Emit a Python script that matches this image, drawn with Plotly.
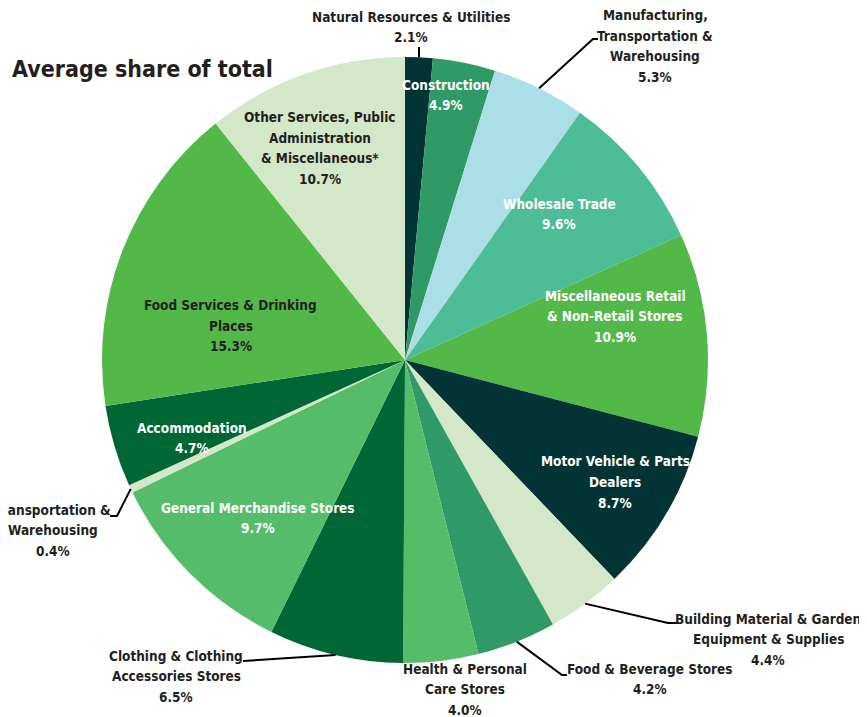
import math
import plotly.graph_objects as go

# Industry shares, clockwise from 12 o'clock
sectors = [
    "Natural Resources & Utilities",
    "Construction",
    "Manufacturing, Transportation & Warehousing",
    "Wholesale Trade",
    "Miscellaneous Retail & Non-Retail Stores",
    "Motor Vehicle & Parts Dealers",
    "Building Material & Garden Equipment & Supplies",
    "Food & Beverage Stores",
    "Health & Personal Care Stores",
    "Clothing & Clothing Accessories Stores",
    "General Merchandise Stores",
    "Transportation & Warehousing",
    "Accommodation",
    "Food Services & Drinking Places",
    "Other Services, Public Administration & Miscellaneous*",
]
# printed share labels (%)
share_pct = [2.1, 4.9, 5.3, 9.6, 10.9, 8.7, 4.4, 4.2, 4.0, 6.5, 9.7, 0.4, 4.7, 15.3, 10.7]
# slice sizes as actually drawn in the source chart (%)
drawn_pct = [1.47, 3.33, 5.0, 8.44, 10.83, 8.78, 4.03, 4.22, 4.0, 7.17, 10.53, 0.42, 4.36, 16.67, 10.75]

# label text as broken in the original
label_lines = [
    ["Natural Resources & Utilities"],
    ["Construction"],
    ["Manufacturing,", "Transportation &", "Warehousing"],
    ["Wholesale Trade"],
    ["Miscellaneous Retail", "& Non-Retail Stores"],
    ["Motor Vehicle & Parts", "Dealers"],
    ["Building Material & Garden", "Equipment & Supplies"],
    ["Food & Beverage Stores"],
    ["Health & Personal", "Care Stores"],
    ["Clothing & Clothing", "Accessories Stores"],
    ["General Merchandise Stores"],
    ["Transportation &", "Warehousing"],
    ["Accommodation"],
    ["Food Services & Drinking", "Places"],
    ["Other Services, Public", "Administration", "& Miscellaneous*"],
]

colors = ["#023436", "#2f9a66", "#abdfe8", "#4dbd98", "#52b848", "#023436", "#d3e8c8",
          "#2f9a66", "#55bc6a", "#006633", "#55bc6a", "#d3e8c8", "#006633", "#52b848", "#d3e8c8"]
text_colors = ["#231f20", "white", "#231f20", "white", "white", "white", "#231f20", "#231f20",
               "#231f20", "#231f20", "white", "#231f20", "white", "#231f20", "#231f20"]

# layout (pixels in the 867x717 window; the page body adds an 8px offset)
W, H = 867, 717
OFF = 8
CX, CY, R = 405, 360, 303
LINE_GAP = 20.5
label_pos = [(411, 27), (446, 95), (655, 46), (559, 214), (615, 316), (615, 482), (768, 639),
             (650, 679), (465, 689), (176, 676), (258, 518), (53, 530), (192, 438), (231, 326), (320, 148)]
# leader line elbows/ends
leaders = {
    0: [(419, 47)],
    2: [(593, 39), (598, 39)],
    6: [(668, 623), (677, 623)],
    7: [(562, 675), (567, 675)],
    9: [(243, 661)],
    11: [(117, 516), (110, 516)],
}

FONT = "DejaVu Sans Condensed, Liberation Sans Narrow, sans-serif"


def px(x, y):
    return (x - OFF) / W, 1 - (y - OFF) / H


fig = go.Figure()
x0, y1 = px(CX - R, CY - R)
x1, y0 = px(CX + R, CY + R)
fig.add_trace(go.Pie(
    labels=sectors, values=drawn_pct, sort=False, direction="clockwise", rotation=0,
    marker=dict(colors=colors, line=dict(width=0)),
    textinfo="none", hoverinfo="skip", showlegend=False,
    domain=dict(x=[x0, x1], y=[y0, y1]),
))

annotations = []
shapes = []
total = sum(drawn_pct)
cum = 0
for i, name in enumerate(sectors):
    mid = (cum + drawn_pct[i] / 2) / total * 2 * math.pi
    cum += drawn_pct[i]
    lines = label_lines[i] + [f"{share_pct[i]:.1f}%"]
    lx, ly = label_pos[i]
    top = ly - LINE_GAP * (len(lines) - 1) / 2
    for k, line in enumerate(lines):
        x, y = px(lx, top + k * LINE_GAP)
        annotations.append(dict(
            text=f"<b>{line}</b>", x=x, y=y, xref="paper", yref="paper",
            xanchor="center", yanchor="middle", showarrow=False,
            font=dict(family=FONT, size=13.5, color=text_colors[i]),
        ))
    if i in leaders:
        pts = [(CX + R * math.sin(mid), CY - R * math.cos(mid))] + leaders[i]
        path = "M " + " L ".join(f"{px(a, b)[0]},{px(a, b)[1]}" for a, b in pts)
        shapes.append(dict(type="path", path=path, xref="paper", yref="paper",
                           line=dict(color="black", width=2)))

tx, ty = px(10, 69)
annotations.append(dict(
    text="<b>Average share of total</b>", x=tx, y=ty, xref="paper", yref="paper",
    xanchor="left", yanchor="middle", showarrow=False,
    font=dict(family=FONT, size=23, color="#231f20"),
))

fig.update_layout(
    width=W, height=H, margin=dict(l=0, r=0, t=0, b=0),
    paper_bgcolor="white", plot_bgcolor="white",
    annotations=annotations, shapes=shapes,
)

fig.write_html("out.html")
